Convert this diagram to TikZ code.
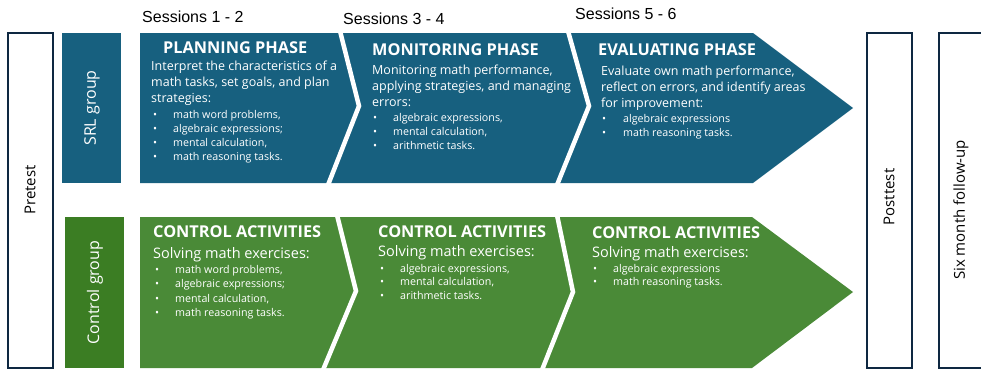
\documentclass[tikz,border=0pt]{standalone}
\usepackage{fontspec}
\setmainfont{Open Sans}
\newfontfamily\sessfont{Liberation Sans}
\definecolor{srlblue}{HTML}{17607F}
\definecolor{ctlgreen}{HTML}{3B7D23}
\definecolor{chevgreen}{HTML}{4A8A37}
\definecolor{framenavy}{HTML}{0E2841}
\begin{document}
\begin{tikzpicture}[x=1pt,y=-1pt,
  testbox/.style={draw=framenavy,line width=1.3pt,fill=white},
  sepline/.style={draw=white,line width=4.5pt,line join=miter},
  sesslabel/.style={font=\sessfont\fontsize{16}{18}\selectfont,anchor=base west,inner sep=0pt},
  sidelabel/.style={font=\fontsize{15}{18}\selectfont,rotate=90,inner sep=0pt},
  grouplabel/.style={font=\fontsize{16}{18}\selectfont,text=white,rotate=90,inner sep=0pt},
  phasetitle/.style={font=\bfseries\fontsize{16.3}{18}\selectfont,text=white,anchor=base west,inner sep=0pt},
  desctext/.style={font=\fontsize{12.5}{15}\selectfont,text=white,anchor=base west,inner sep=0pt},
  solvetext/.style={font=\fontsize{14.5}{17}\selectfont,text=white,anchor=base west,inner sep=0pt},
  itemtext/.style={font=\fontsize{10.7}{13}\selectfont,text=white,anchor=base west,inner sep=0pt}]
\useasboundingbox (0,0) rectangle (981,372);

% test boxes
\path[testbox] (8,33) rectangle (53,368);
\path[testbox] (867,33) rectangle (912,368);
\begin{scope}
\clip (0,0) rectangle (981,372);
\path[testbox] (939,33) rectangle (990,368);
\end{scope}
\node[sidelabel] (pretest) at (30,190) {Pretest};
\node[sidelabel] (posttest) at (889,197) {Posttest};
\node[sidelabel] (followup) at (961,210) {Six month follow-up};

% group boxes
\fill[srlblue] (62,33) rectangle (121,183);
\fill[ctlgreen] (65,217) rectangle (124,368);
\node[grouplabel] (srl) at (92,108) {SRL group};
\node[grouplabel] (ctl) at (95,292.5) {Control group};

% SRL arrow band
\fill[srlblue] (140,33) -- (753,33) -- (853,108) -- (753,183) -- (140,183) -- cycle;
\draw[sepline] (340,31) -- (359,106) -- (328,185);
\draw[sepline] (568,31) -- (589,106) -- (557,185);

% control arrow band
\fill[chevgreen] (140,217) -- (752,217) -- (853,292) -- (752,368) -- (140,368) -- cycle;
\draw[sepline] (337,215) -- (356,291) -- (323,370);
\draw[sepline] (557,215) -- (573,292) -- (542,370);

% session labels
\node[sesslabel] (s12) at (142,22) {Sessions 1 - 2};
\node[sesslabel] (s34) at (343,24) {Sessions 3 - 4};
\node[sesslabel] (s56) at (575,19.5) {Sessions 5 - 6};

% planning phase
\node[phasetitle] (plan) at (163,53) {PLANNING PHASE};
\node[desctext] (plan-d1) at (151,70) {Interpret the characteristics of a};
\node[desctext] (plan-d2) at (151,86.5) {math tasks, set goals, and plan};
\node[desctext] (plan-d3) at (151,102.5) {strategies:};
\foreach \t [count=\i] in {{math word problems,},{algebraic expressions;},{mental calculation,},{math reasoning tasks.}}
  \node[itemtext] (plan-i\i) at (153,{118+14.3*(\i-1)}) {\makebox[20pt][l]{\textbullet}\t};

% monitoring phase
\node[phasetitle] (mon) at (372,55) {MONITORING PHASE};
\node[desctext] (mon-d1) at (372,74) {Monitoring math performance,};
\node[desctext] (mon-d2) at (372,90.5) {applying strategies, and managing};
\node[desctext] (mon-d3) at (372,106.5) {errors:};
\foreach \t [count=\i] in {{algebraic expressions,},{mental calculation,},{arithmetic tasks.}}
  \node[itemtext] (mon-i\i) at (373,{121+14*(\i-1)}) {\makebox[20pt][l]{\textbullet}\t};

% evaluating phase
\node[phasetitle] (eval) at (598,55) {EVALUATING PHASE};
\node[desctext] (eval-d1) at (601,75) {Evaluate own math performance,};
\node[desctext] (eval-d2) at (601,91.5) {reflect on errors, and identify areas};
\node[desctext] (eval-d3) at (601,107.5) {for improvement:};
\foreach \t [count=\i] in {{algebraic expressions},{math reasoning tasks.}}
  \node[itemtext] (eval-i\i) at (602,{122+14*(\i-1)}) {\makebox[21pt][l]{\textbullet}\t};

% control activities, sessions 1-2
\node[phasetitle] (ca1) at (153,237) {CONTROL ACTIVITIES};
\node[solvetext] (ca1-s) at (153,258) {Solving math exercises:};
\foreach \t [count=\i] in {{math word problems,},{algebraic expressions;},{mental calculation,},{math reasoning tasks.}}
  \node[itemtext] (ca1-i\i) at (155,{273+14.5*(\i-1)}) {\makebox[20pt][l]{\textbullet}\t};

% control activities, sessions 3-4
\node[phasetitle] (ca2) at (378,237) {CONTROL ACTIVITIES};
\node[solvetext] (ca2-s) at (378,256) {Solving math exercises:};
\foreach \t [count=\i] in {{algebraic expressions,},{mental calculation,},{arithmetic tasks.}}
  \node[itemtext] (ca2-i\i) at (380,{272+13.7*(\i-1)}) {\makebox[20pt][l]{\textbullet}\t};

% control activities, sessions 5-6
\node[phasetitle] (ca3) at (592,238) {CONTROL ACTIVITIES};
\node[solvetext] (ca3-s) at (592,257) {Solving math exercises:};
\foreach \t [count=\i] in {{algebraic expressions},{math reasoning tasks.}}
  \node[itemtext] (ca3-i\i) at (593,{272+13.5*(\i-1)}) {\makebox[20pt][l]{\textbullet}\t};
\end{tikzpicture}
\end{document}
